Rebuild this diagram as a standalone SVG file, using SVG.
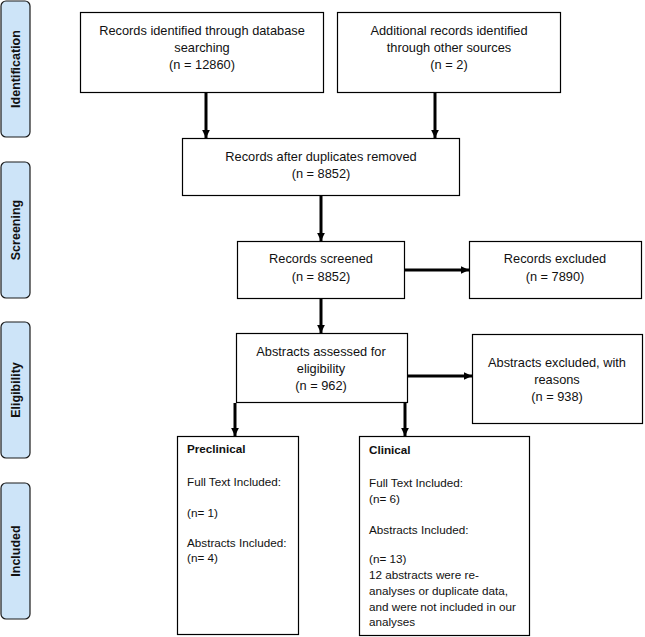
<svg xmlns="http://www.w3.org/2000/svg" width="645" height="637" viewBox="0 0 645 637">
<style>
.box{fill:#fff;stroke:#000;stroke-width:1.2}
.side{fill:#cde4f8;stroke:#1a1a1a;stroke-width:1.2}
.t{font-family:"Liberation Sans",Arial,sans-serif;font-size:12.8px;fill:#111}
.l{font-family:"Liberation Sans",Arial,sans-serif;font-size:11.7px;fill:#111}
.c{text-anchor:middle}
.sl{font-family:"Liberation Sans",Arial,sans-serif;font-size:12.5px;font-weight:bold;fill:#111;text-anchor:middle}
.b{font-weight:bold}
.ln{stroke:#000;stroke-width:3;fill:none}
</style>
<defs>
<marker id="ah" markerWidth="2.7" markerHeight="2.6" refX="2.7" refY="1.3" orient="auto" markerUnits="strokeWidth">
<path d="M0,0 L2.7,1.3 L0,2.6 Z" fill="#000"/>
</marker>
</defs>
<rect width="645" height="637" fill="#fff"/>
<g id="side-identification"><rect class="side" x="1" y="1" width="29" height="136" rx="5"/><text class="sl" transform="translate(20,69) rotate(-90)">Identification</text></g>
<g id="side-screening"><rect class="side" x="1" y="162" width="29" height="136" rx="5"/><text class="sl" transform="translate(20,230) rotate(-90)">Screening</text></g>
<g id="side-eligibility"><rect class="side" x="1" y="322" width="29" height="136" rx="5"/><text class="sl" transform="translate(20,390) rotate(-90)">Eligibility</text></g>
<g id="side-included"><rect class="side" x="1" y="483" width="29" height="136" rx="5"/><text class="sl" transform="translate(20,551) rotate(-90)">Included</text></g>

<g id="n-db"><rect class="box" x="80.5" y="12.5" width="243" height="80"/>
<text class="t c" x="202" y="35">Records identified through database</text>
<text class="t c" x="202" y="52">searching</text>
<text class="t c" x="202" y="69">(n = 12860)</text></g>
<g id="n-other"><rect class="box" x="337.5" y="12.5" width="223" height="80"/>
<text class="t c" x="449" y="35">Additional records identified</text>
<text class="t c" x="449" y="52">through other sources</text>
<text class="t c" x="449" y="69">(n = 2)</text></g>
<g id="n-dup"><rect class="box" x="182.5" y="138.5" width="277" height="57"/>
<text class="t c" x="321" y="161">Records after duplicates removed</text>
<text class="t c" x="321" y="178">(n = 8852)</text></g>
<g id="n-screened"><rect class="box" x="237.5" y="241.5" width="167" height="57"/>
<text class="t c" x="321" y="263">Records screened</text>
<text class="t c" x="321" y="281">(n =  8852)</text></g>
<g id="n-excluded"><rect class="box" x="469.5" y="241.5" width="172" height="57"/>
<text class="t c" x="555" y="263">Records excluded</text>
<text class="t c" x="555" y="281">(n = 7890)</text></g>
<g id="n-abstracts"><rect class="box" x="236.5" y="333.5" width="171" height="69"/>
<text class="t c" x="321" y="356">Abstracts assessed for</text>
<text class="t c" x="321" y="373">eligibility</text>
<text class="t c" x="321" y="390">(n =  962)</text></g>
<g id="n-abs-excluded"><rect class="box" x="472.5" y="334.5" width="170" height="89"/>
<text class="t c" x="557" y="367">Abstracts excluded, with</text>
<text class="t c" x="557" y="384">reasons</text>
<text class="t c" x="557" y="401">(n = 938)</text></g>
<g id="n-preclinical"><rect class="box" x="177.5" y="436.5" width="121" height="198"/>
<text class="l b" x="187" y="453">Preclinical</text>
<text class="l" x="187" y="486">Full Text Included:</text>
<text class="l" x="187" y="517">(n= 1)</text>
<text class="l" x="187" y="547">Abstracts Included:</text>
<text class="l" x="187" y="562">(n= 4)</text></g>
<g id="n-clinical"><rect class="box" x="359.5" y="436.5" width="170" height="199"/>
<text class="l b" x="369" y="454">Clinical</text>
<text class="l" x="369" y="487">Full Text Included:</text>
<text class="l" x="369" y="503">(n= 6)</text>
<text class="l" x="369" y="534">Abstracts Included:</text>
<text class="l" x="369" y="563">(n= 13)</text>
<text class="l" x="369" y="579">12 abstracts were re-</text>
<text class="l" x="369" y="595">analyses or duplicate data,</text>
<text class="l" x="369" y="611">and were not included in our</text>
<text class="l" x="369" y="626">analyses</text></g>

<g id="connectors">
<line class="ln" x1="206" y1="93" x2="206" y2="138" marker-end="url(#ah)"/>
<line class="ln" x1="435" y1="93" x2="435" y2="138" marker-end="url(#ah)"/>
<line class="ln" x1="321" y1="196" x2="321" y2="241" marker-end="url(#ah)"/>
<line class="ln" x1="405" y1="270" x2="469" y2="270" marker-end="url(#ah)"/>
<line class="ln" x1="321" y1="299" x2="321" y2="333" marker-end="url(#ah)"/>
<line class="ln" x1="408" y1="376" x2="472" y2="376" marker-end="url(#ah)"/>
<line class="ln" x1="235" y1="403" x2="235" y2="436" marker-end="url(#ah)"/>
<line class="ln" x1="405" y1="403" x2="405" y2="436" marker-end="url(#ah)"/>
</g>
</svg>
